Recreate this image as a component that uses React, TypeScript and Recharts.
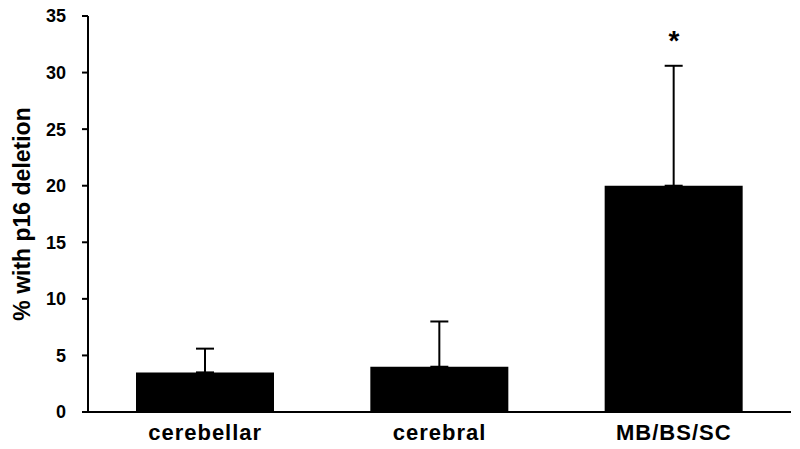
import React from "react";
import {
  BarChart,
  Bar,
  XAxis,
  YAxis,
  ErrorBar,
  ReferenceDot,
  Label,
} from "recharts";

const categories = ["cerebellar", "cerebral", "MB/BS/SC"];
const meanValues = [3.5, 4.0, 20.0];
const upperErrors = [2.1, 4.0, 10.6];
const significant = [false, false, true];
const yTicks = [0, 5, 10, 15, 20, 25, 30, 35];

const data = categories.map((name, i) => ({
  name,
  value: meanValues[i],
  err: [0, upperErrors[i]],
}));

const FONT = "'Liberation Sans', Arial, sans-serif";

export default function App() {
  return (
    <div style={{ position: "absolute", left: 0, top: 0, background: "#fff" }}>
      <BarChart
        width={800}
        height={449}
        data={data}
        margin={{ top: 16, right: 9, bottom: 0, left: 0 }}
        barSize={138}
      >
        <XAxis
          dataKey="name"
          height={37}
          tickLine={false}
          tickSize={6}
          tickMargin={6}
          axisLine={{ stroke: "#000", strokeWidth: 2 }}
          tick={{
            fill: "#000",
            fontSize: 22,
            fontWeight: "bold",
            fontFamily: FONT,
            letterSpacing: 1,
          }}
        />
        <YAxis
          width={88}
          domain={[0, 35]}
          ticks={yTicks}
          interval={0}
          tickSize={6}
          tickMargin={16}
          axisLine={{ stroke: "#000", strokeWidth: 2 }}
          tickLine={{ stroke: "#000", strokeWidth: 2 }}
          tick={{
            fill: "#000",
            fontSize: 18,
            fontWeight: "bold",
            fontFamily: FONT,
          }}
        >
          <Label
            value="% with p16 deletion"
            angle={-90}
            position="center"
            dx={-22}
            style={{
              fill: "#000",
              fontSize: 23,
              fontWeight: "bold",
              fontFamily: FONT,
            }}
          />
        </YAxis>
        <Bar dataKey="value" fill="#000" isAnimationActive={false}>
          <ErrorBar
            dataKey="err"
            direction="y"
            width={9}
            stroke="#000"
            strokeWidth={2}
            isAnimationActive={false}
          />
        </Bar>
        {categories.map((c, i) =>
          significant[i] ? (
            <ReferenceDot
              key={c}
              x={c}
              y={meanValues[i] + upperErrors[i] + 2.3}
              r={0}
              stroke="none"
              label={{
                value: "*",
                position: "center",
                style: {
                  fill: "#000",
                  fontSize: 28,
                  fontWeight: "bold",
                  fontFamily: FONT,
                },
              }}
            />
          ) : null
        )}
      </BarChart>
    </div>
  );
}
